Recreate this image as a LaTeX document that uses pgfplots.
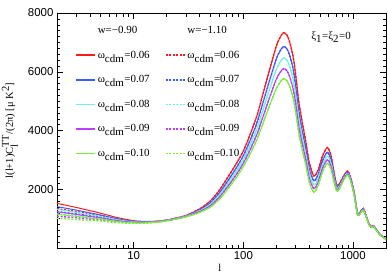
\documentclass[border=0pt]{standalone}
\usepackage{fontspec}
\setmainfont{Liberation Serif}
\setsansfont{Liberation Sans}
\usepackage{pgfplots}
\pgfplotsset{compat=1.18}
\usepackage{pgfplotstable}

\definecolor{cR}{RGB}{255,25,25}
\definecolor{cB}{RGB}{60,90,255}
\definecolor{cC}{RGB}{110,240,230}
\definecolor{cM}{RGB}{190,60,255}
\definecolor{cG}{RGB}{120,240,50}

\pgfplotstableread{
l r b c m g rd bd cd md gd
2 1520 1409 1317 1232 1151 1338 1240 1159 1084 1013
3 1380 1289 1213 1143 1076 1242 1160 1092 1029 968
4 1270 1194 1130 1072 1016 1168 1098 1040 986 935
5 1185 1125 1074 1028 984 1108 1052 1004 961 920
7 1040 999 966 935 905 993 954 923 893 864
10 930 909 892 876 860 907 886 870 854 839
13 905 891 880 870 860 891 878 867 857 847
17 920 910 902 895 888 915 905 897 891 884
22 980 971 964 957 951 980 971 964 957 951
30 1110 1095 1083 1071 1060 1110 1095 1083 1071 1060
40 1330 1294 1264 1237 1210 1330 1294 1264 1237 1210
50 1600 1538 1486 1438 1392 1600 1538 1486 1438 1392
60 1950 1859 1784 1714 1648 1950 1859 1784 1714 1648
70 2330 2215 2119 2030 1946 2330 2215 2119 2030 1946
85 2830 2690 2573 2466 2363 2830 2690 2573 2466 2363
100 3300 3142 3010 2888 2772 3300 3142 3010 2888 2772
115 3850 3654 3490 3339 3196 3850 3654 3490 3339 3196
133 4500 4257 4055 3868 3690 4500 4257 4055 3868 3690
150 5200 4904 4657 4429 4212 5200 4904 4657 4429 4212
173 6050 5687 5385 5106 4840 6050 5687 5385 5106 4840
199 6850 6418 6059 5728 5412 6850 6418 6059 5728 5412
215 7150 6693 6312 5962 5627 7150 6693 6312 5962 5627
232 7330 6859 6467 6106 5761 7330 6859 6467 6106 5761
250 7250 6782 6393 6034 5691 7250 6782 6393 6034 5691
265 7000 6549 6172 5826 5495 7000 6549 6172 5826 5495
285 6500 6081 5731 5410 5103 6500 6081 5731 5410 5103
300 5900 5519 5202 4911 4632 5900 5519 5202 4911 4632
320 5000 4678 4409 4162 3925 5000 4678 4409 4162 3925
340 4400 4110 3868 3645 3432 4400 4110 3868 3645 3432
370 3650 3409 3208 3024 2847 3650 3409 3208 3024 2847
400 2900 2700 2533 2380 2233 2900 2700 2533 2380 2233
440 2450 2285 2147 2020 1899 2450 2285 2147 2020 1899
480 2650 2491 2359 2237 2120 2650 2491 2359 2237 2120
530 3150 2989 2855 2732 2615 3150 2989 2855 2732 2615
585 3420 3261 3128 3007 2890 3420 3261 3128 3007 2890
630 3150 3008 2890 2781 2678 3150 3008 2890 2781 2678
670 2600 2499 2414 2336 2262 2600 2499 2414 2336 2262
710 2150 2086 2032 1982 1935 2150 2086 2032 1982 1935
750 2180 2128 2084 2044 2006 2180 2128 2084 2044 2006
820 2450 2406 2369 2335 2303 2450 2406 2369 2335 2303
895 2620 2581 2548 2518 2489 2620 2581 2548 2518 2489
960 2350 2315 2285 2258 2233 2350 2315 2285 2258 2233
1026 1885 1857 1833 1811 1791 1885 1857 1833 1811 1791
1100 1180 1162 1148 1134 1121 1180 1162 1148 1134 1121
1160 1220 1202 1186 1172 1159 1220 1202 1186 1172 1159
1240 1350 1330 1313 1297 1283 1350 1330 1313 1297 1283
1320 1100 1084 1070 1057 1045 1100 1084 1070 1057 1045
1410 800 788 778 769 760 800 788 778 769 760
1470 730 719 710 702 694 730 719 710 702 694
1540 760 749 739 730 722 760 749 739 730 722
1620 650 640 632 625 618 650 640 632 625 618
1750 480 473 467 461 456 480 473 467 461 456
1880 380 374 370 365 361 380 374 370 365 361
2000 305 300 297 293 290 305 300 297 293 290
}\cmbdata

\begin{document}
\begin{tikzpicture}
\begin{axis}[
  scale only axis, width=329bp, height=235bp,
  xmode=log, xmin=2, xmax=2000, ymin=0, ymax=8000,
  xtick={10,100,1000}, xticklabels={10,100,1000},
  minor xtick={2,3,4,5,6,7,8,9,20,30,40,50,60,70,80,90,200,300,400,500,600,700,800,900},
  ytick={2000,4000,6000,8000}, yticklabels={2000,4000,6000,8000},
  minor ytick={200,400,...,7800},
  xtick pos=both, ytick pos=both, tick align=inside,
  major tick length=6bp, minor tick length=3.5bp,
  tick style={black, line width=0.5pt},
  axis line style={line width=0.7pt},
  tick label style={font=\sffamily\fontsize{11.5}{12}\selectfont},
  xlabel={l},
  ylabel={l(l+1)C$_{\textrm{l}}^{\textrm{TT}}$/(2π) [μ K$^{\textrm{2}}$]},
  xlabel style={at={(axis description cs:0.495,-0.085)}, anchor=center, font=\fontsize{10.5}{12}\selectfont},
  ylabel style={at={(axis description cs:-0.143,0.5)}, anchor=center, font=\fontsize{10.5}{12}\selectfont},
  legend columns=2,
  legend image code/.code={\draw[#1] (0bp,0bp) -- (19bp,0bp);},
  legend image post style={line width=1.8pt},
  legend style={draw=none, fill=none, at={(axis description cs:0.045,0.975)}, anchor=north west,
    font=\fontsize{11}{12}\selectfont, row sep=5pt, nodes={inner ysep=5.4pt},
    /tikz/every even column/.append style={column sep=13pt}, cells={anchor=west}},
  every axis plot/.append style={smooth, tension=0.45},
]
\addlegendimage{empty legend}\addlegendentry{w=−0.90}
\addlegendimage{empty legend}\addlegendentry{w=−1.10}
\addplot[cR, line width=1pt] table[x=l,y=r]{\cmbdata};
\addlegendentry{ω$_{\textrm{cdm}}$=0.06}
\addplot[cR, line width=1.4pt, dash pattern=on 2pt off 1.6pt] table[x=l,y=rd]{\cmbdata};
\addlegendentry{ω$_{\textrm{cdm}}$=0.06}
\addplot[cB, line width=1pt] table[x=l,y=b]{\cmbdata};
\addlegendentry{ω$_{\textrm{cdm}}$=0.07}
\addplot[cB, line width=1.4pt, dash pattern=on 2pt off 1.6pt] table[x=l,y=bd]{\cmbdata};
\addlegendentry{ω$_{\textrm{cdm}}$=0.07}
\addplot[cC, line width=1pt] table[x=l,y=c]{\cmbdata};
\addlegendentry{ω$_{\textrm{cdm}}$=0.08}
\addplot[cC, line width=1.4pt, dash pattern=on 2pt off 1.6pt] table[x=l,y=cd]{\cmbdata};
\addlegendentry{ω$_{\textrm{cdm}}$=0.08}
\addplot[cM, line width=1pt] table[x=l,y=m]{\cmbdata};
\addlegendentry{ω$_{\textrm{cdm}}$=0.09}
\addplot[cM, line width=1.4pt, dash pattern=on 2pt off 1.6pt] table[x=l,y=md]{\cmbdata};
\addlegendentry{ω$_{\textrm{cdm}}$=0.09}
\addplot[cG, line width=1pt] table[x=l,y=g]{\cmbdata};
\addlegendentry{ω$_{\textrm{cdm}}$=0.10}
\addplot[cG, line width=1.4pt, dash pattern=on 2pt off 1.6pt] table[x=l,y=gd]{\cmbdata};
\addlegendentry{ω$_{\textrm{cdm}}$=0.10}
\node[font=\fontsize{11}{12}\selectfont] at (axis description cs:0.833,0.898) {ξ$_{\textrm{1}}$=ξ$_{\textrm{2}}$=0};
\end{axis}
\pgfresetboundingbox
\path (current axis.south west) ++(-57bp,-29bp) rectangle ++(388bp,277bp);
\end{tikzpicture}
\end{document}
